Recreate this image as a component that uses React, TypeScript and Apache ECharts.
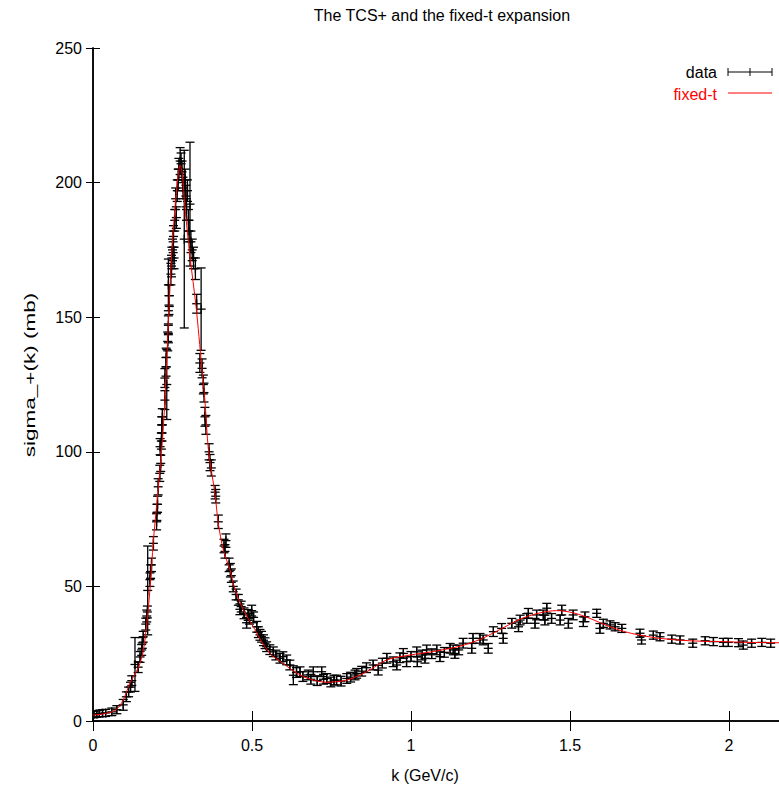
import React, { useEffect, useRef } from "react";
import * as echarts from "echarts";

const TITLE = "The TCS+ and the fixed-t expansion";
const X_LABEL = "k (GeV/c)";
const Y_LABEL = "sigma_+(k) (mb)";
const LEGEND_DATA = "data";
const LEGEND_FIT = "fixed-t";

// measured points: momentum k (GeV/c), cross section (mb), error (mb)
const kValues = [
  0.003, 0.012, 0.02, 0.03, 0.04, 0.059, 0.075, 0.095, 0.105, 0.112, 0.118, 0.122,
  0.132, 0.142, 0.148, 0.153, 0.155, 0.158, 0.166, 0.169, 0.171, 0.172, 0.179, 0.181,
  0.184, 0.19, 0.2, 0.201, 0.203, 0.205, 0.21, 0.213, 0.211, 0.215, 0.217, 0.216,
  0.218, 0.226, 0.232, 0.226, 0.23, 0.23, 0.235, 0.237, 0.237, 0.239, 0.24, 0.237,
  0.245, 0.247, 0.248, 0.25, 0.252, 0.255, 0.253, 0.257, 0.262, 0.26, 0.265, 0.268,
  0.27, 0.274, 0.277, 0.28, 0.283, 0.287, 0.29, 0.292, 0.294, 0.297, 0.3, 0.305,
  0.302, 0.308, 0.312, 0.316, 0.322, 0.326, 0.34, 0.336, 0.343, 0.347, 0.349, 0.352,
  0.355, 0.365, 0.368, 0.372, 0.384, 0.386, 0.394, 0.412, 0.415, 0.418, 0.428, 0.432,
  0.435, 0.441, 0.45, 0.457, 0.462, 0.466, 0.475, 0.483, 0.488, 0.492, 0.499, 0.505,
  0.515, 0.52, 0.525, 0.53, 0.536, 0.541, 0.546, 0.556, 0.567, 0.575, 0.588, 0.597,
  0.609, 0.619, 0.63, 0.64, 0.651, 0.66, 0.677, 0.685, 0.693, 0.705, 0.719, 0.725,
  0.735, 0.748, 0.758, 0.766, 0.78, 0.798, 0.81, 0.824, 0.829, 0.845, 0.86, 0.881,
  0.897, 0.91, 0.924, 0.944, 0.955, 0.965, 0.976, 0.986, 1.0, 1.018, 1.02, 1.035,
  1.049, 1.044, 1.065, 1.081, 1.091, 1.105, 1.123, 1.133, 1.138, 1.15, 1.164, 1.191,
  1.195, 1.217, 1.227, 1.243, 1.259, 1.285, 1.29, 1.317, 1.338, 1.343, 1.364, 1.369,
  1.39, 1.395, 1.416, 1.421, 1.427, 1.442, 1.469, 1.474, 1.495, 1.51, 1.542, 1.547,
  1.584, 1.594, 1.605, 1.626, 1.642, 1.663, 1.72, 1.725, 1.762, 1.783, 1.82, 1.846,
  1.886, 1.925, 1.951, 1.982, 1.998, 2.03, 2.045, 2.071, 2.103, 2.131,
];
const sigmaValues = [
  2.4, 2.6, 2.8, 2.9, 3.0, 3.4, 4.2, 6.0, 9.0, 10.8, 12.6, 15.0,
  21.0, 20.0, 23.8, 26.4, 29.0, 31.3, 36.0, 39.0, 40.5, 48.5, 52.5, 55.5,
  58.0, 66.0, 74.0, 77.5, 80.5, 87.0, 92.0, 95.7, 101.9, 104.0, 107.0, 110.0,
  113.0, 119.2, 125.0, 127.4, 131.6, 135.0, 141.0, 144.0, 147.0, 154.5, 158.0, 162.0,
  166.0, 169.0, 172.0, 175.0, 178.0, 172.0, 180.0, 186.0, 187.0, 194.0, 197.0, 201.0,
  205.0, 208.0, 207.0, 204.0, 198.0, 179.0, 201.0, 195.0, 190.0, 197.0, 186.0, 192.0,
  182.0, 178.0, 175.0, 172.0, 168.0, 155.0, 153.0, 133.0, 131.0, 125.0, 122.0, 113.0,
  110.0, 100.0, 96.0, 94.0, 85.0, 83.5, 74.0, 65.0, 63.0, 67.0, 58.0, 56.0,
  54.0, 50.0, 47.0, 45.0, 41.5, 42.5, 40.0, 36.5, 39.4, 38.0, 41.0, 38.5,
  35.0, 33.0, 32.0, 31.3, 30.0, 28.9, 27.6, 26.5, 25.7, 24.5, 23.3, 23.9,
  22.7, 20.8, 17.0, 18.0, 18.3, 16.5, 17.1, 15.5, 18.3, 15.0, 18.3, 15.5,
  15.8, 14.5, 15.2, 15.2, 14.8, 15.8, 16.3, 17.1, 17.7, 18.5, 19.8, 20.8,
  18.9, 21.5, 23.3, 22.0, 20.8, 23.5, 25.1, 22.0, 24.0, 25.7, 22.0, 24.5,
  26.4, 23.3, 25.0, 26.4, 23.9, 25.5, 27.0, 26.4, 25.1, 26.4, 28.9, 27.0,
  30.7, 30.7, 30.1, 27.0, 33.2, 34.4, 30.7, 36.3, 35.0, 37.5, 38.1, 40.0,
  36.3, 39.4, 39.4, 37.5, 41.9, 38.1, 37.5, 41.2, 36.3, 39.4, 36.9, 38.7,
  40.0, 34.4, 36.3, 35.7, 35.0, 34.4, 32.6, 30.1, 31.9, 31.3, 30.4, 30.1,
  28.9, 29.8, 29.5, 29.2, 29.2, 29.1, 28.2, 28.9, 29.2, 28.9,
];
const sigmaErrors = [
  1.2, 1.2, 1.2, 1.3, 1.3, 1.4, 1.5, 2.0, 1.8, 1.8, 1.8, 1.8,
  10.0, 2.0, 2.0, 2.0, 2.0, 2.0, 2.2, 2.2, 2.2, 16.5, 2.5, 2.5,
  2.5, 2.5, 3.0, 3.0, 3.0, 3.0, 3.0, 3.0, 3.0, 3.0, 3.0, 3.0,
  3.0, 3.5, 13.0, 3.5, 3.5, 3.5, 3.5, 3.5, 3.5, 3.5, 4.0, 9.6,
  4.0, 4.0, 4.0, 4.0, 4.0, 4.0, 4.0, 4.0, 4.0, 4.0, 4.0, 4.0,
  4.0, 5.0, 4.0, 4.0, 4.0, 33.0, 4.0, 4.0, 4.0, 4.0, 4.0, 23.0,
  4.0, 4.0, 4.0, 4.0, 4.0, 3.5, 15.3, 3.5, 3.5, 3.5, 3.5, 3.5,
  3.5, 3.0, 3.0, 3.0, 2.5, 2.5, 2.5, 2.5, 2.5, 2.5, 2.5, 2.5,
  2.5, 2.0, 2.0, 2.0, 2.0, 2.0, 2.0, 2.0, 2.0, 2.0, 2.0, 2.0,
  2.0, 2.0, 2.0, 2.0, 2.0, 2.0, 1.8, 1.8, 1.8, 1.8, 1.8, 1.8,
  1.8, 1.8, 3.5, 1.8, 1.8, 1.8, 1.8, 1.8, 1.8, 1.8, 1.8, 1.8,
  1.8, 1.8, 1.8, 1.8, 1.8, 1.8, 1.8, 1.8, 1.8, 1.8, 1.8, 1.8,
  1.8, 1.8, 1.8, 1.8, 1.8, 1.8, 1.8, 1.8, 1.8, 1.8, 1.8, 1.8,
  1.8, 1.8, 1.8, 1.8, 1.8, 1.8, 1.8, 1.8, 1.8, 1.8, 1.8, 1.8,
  1.8, 1.8, 1.8, 1.8, 1.8, 1.8, 1.8, 1.8, 1.8, 1.8, 1.8, 1.8,
  1.8, 1.8, 1.8, 1.8, 1.8, 1.8, 1.8, 1.8, 1.8, 1.8, 1.8, 1.8,
  1.5, 1.8, 1.5, 1.5, 1.5, 1.5, 1.5, 1.5, 1.5, 1.5, 1.5, 1.5,
  1.5, 1.5, 1.5, 1.5, 1.5, 1.5, 1.5, 1.5, 1.5, 1.5,
];

// fixed-t expansion curve
const curveK = [
  0, 0.04, 0.074, 0.095, 0.116, 0.143, 0.158, 0.169, 0.179, 0.19, 0.2, 0.216,
  0.226, 0.237, 0.247, 0.258, 0.267, 0.274, 0.281, 0.289, 0.305, 0.324, 0.342, 0.352,
  0.363, 0.384, 0.394, 0.41, 0.431, 0.447, 0.473, 0.504, 0.525, 0.557, 0.588, 0.651,
  0.7, 0.735, 0.798, 0.861, 0.924, 0.997, 1.07, 1.154, 1.217, 1.28, 1.343, 1.406,
  1.458, 1.51, 1.563, 1.615, 1.668, 1.72, 1.783, 1.877, 1.97, 2.066, 2.2,
];
const curveSigma = [
  2.2, 2.8, 4.3, 7.8, 14, 20, 26, 36, 48.7, 67, 80, 100.7,
  119, 148, 172.5, 191, 202, 206.5, 203, 191, 172.5, 154, 131.6, 119,
  100.7, 84, 73.4, 63.5, 56, 48.7, 41.2, 35, 30.5, 25, 22.2, 17.1,
  15, 14.4, 15.2, 18.3, 22.7, 24.5, 25.8, 27.8, 30.3, 34, 37.8, 40.2,
  41, 40.2, 38.1, 35.5, 33.3, 31.9, 30.7, 29.8, 29.5, 29.2, 29,
];

const FONT = "'Liberation Sans', Arial, Helvetica, sans-serif";

export default function App() {
  const ref = useRef<HTMLDivElement>(null);
  useEffect(() => {
    if (!ref.current) return;
    const chart = echarts.init(ref.current, null, { renderer: "svg" });
    const points = kValues.map((k, i) => [k, sigmaValues[i], sigmaErrors[i]]);
    const curve = curveK.map((k, i) => [k, curveSigma[i]]);
    const black = "#000000";
    const red = "#ff0000";
    const axisCommon = {
      min: 0,
      axisLine: { show: true, lineStyle: { color: black, width: 1.5 } },
      splitLine: { show: false },
    };
    chart.setOption({
      animation: false,
      backgroundColor: "#ffffff",
      grid: { left: 93, right: 7.4, top: 48, bottom: 71, containLabel: false },
      xAxis: [
        {
          ...axisCommon,
          type: "value",
          position: "bottom",
          max: 2.2,
          interval: 0.5,
          axisTick: { show: true, inside: true, length: 10, lineStyle: { color: black, width: 1 } },
          axisLabel: {
            show: true,
            color: black,
            fontFamily: FONT,
            fontSize: 16,
            margin: 16,
            showMaxLabel: false,
          },
        },
        {
          ...axisCommon,
          type: "value",
          position: "top",
          max: 2.2,
          interval: 0.5,
          axisTick: { show: true, inside: true, length: 10, lineStyle: { color: black, width: 1 } },
          axisLabel: { show: false },
        },
      ],
      yAxis: [
        {
          ...axisCommon,
          type: "value",
          position: "left",
          max: 250,
          interval: 50,
          axisTick: { show: true, inside: true, length: 7, lineStyle: { color: black, width: 1 } },
          axisLabel: { show: true, color: black, fontFamily: FONT, fontSize: 16, margin: 11 },
        },
        {
          ...axisCommon,
          type: "value",
          position: "right",
          max: 250,
          interval: 50,
          axisTick: { show: true, inside: true, length: 7, lineStyle: { color: black, width: 1 } },
          axisLabel: { show: false },
        },
      ],
      series: [
        {
          name: LEGEND_DATA,
          type: "custom",
          xAxisIndex: 0,
          yAxisIndex: 0,
          clip: true,
          z: 2,
          encode: { x: 0, y: 1 },
          data: points,
          renderItem: (params: any, api: any) => {
            const k = api.value(0);
            const s = api.value(1);
            const e = api.value(2);
            const p = api.coord([k, s]);
            const hi = api.coord([k, s + e]);
            const lo = api.coord([k, s - e]);
            const cw = 4.5;
            const st = { stroke: black, lineWidth: 1.3 };
            return {
              type: "group",
              children: [
                { type: "line", shape: { x1: p[0], y1: hi[1], x2: p[0], y2: lo[1] }, style: st },
                { type: "line", shape: { x1: p[0] - cw, y1: hi[1], x2: p[0] + cw, y2: hi[1] }, style: st },
                { type: "line", shape: { x1: p[0] - cw, y1: lo[1], x2: p[0] + cw, y2: lo[1] }, style: st },
                { type: "line", shape: { x1: p[0] - 4.5, y1: p[1], x2: p[0] + 4.5, y2: p[1] }, style: st },
                { type: "line", shape: { x1: p[0], y1: p[1] - 4.5, x2: p[0], y2: p[1] + 4.5 }, style: st },
              ],
            };
          },
        },
        {
          name: LEGEND_FIT,
          type: "line",
          xAxisIndex: 0,
          yAxisIndex: 0,
          data: curve,
          smooth: 0.3,
          showSymbol: false,
          symbol: "none",
          z: 3,
          lineStyle: { color: red, width: 1 },
        },
      ],
      graphic: [
        {
          type: "text",
          x: 442,
          y: 15,
          style: { text: TITLE, fill: black, font: `16px ${FONT}`, textAlign: "center", textVerticalAlign: "middle" },
        },
        {
          type: "text",
          x: 425,
          y: 775,
          style: { text: X_LABEL, fill: black, font: `16px ${FONT}`, textAlign: "center", textVerticalAlign: "middle" },
        },
        {
          type: "text",
          x: 30,
          y: 375,
          rotation: Math.PI / 2,
          scaleX: 1.5,
          scaleY: 1,
          style: { text: Y_LABEL, fill: black, font: `15px ${FONT}`, textAlign: "center", textVerticalAlign: "middle" },
        },
        {
          type: "text",
          x: 717,
          y: 72,
          style: { text: LEGEND_DATA, fill: black, font: `16px ${FONT}`, textAlign: "right", textVerticalAlign: "middle" },
        },
        { type: "line", shape: { x1: 728, y1: 72, x2: 772, y2: 72 }, style: { stroke: black, lineWidth: 1 } },
        { type: "line", shape: { x1: 728, y1: 68, x2: 728, y2: 76 }, style: { stroke: black, lineWidth: 1 } },
        { type: "line", shape: { x1: 772, y1: 68, x2: 772, y2: 76 }, style: { stroke: black, lineWidth: 1 } },
        { type: "line", shape: { x1: 750, y1: 68, x2: 750, y2: 76 }, style: { stroke: black, lineWidth: 1 } },
        {
          type: "text",
          x: 717,
          y: 94,
          style: { text: LEGEND_FIT, fill: red, font: `16px ${FONT}`, textAlign: "right", textVerticalAlign: "middle" },
        },
        { type: "line", shape: { x1: 728, y1: 93, x2: 772, y2: 93 }, style: { stroke: red, lineWidth: 1 } },
      ],
    });
    return () => chart.dispose();
  }, []);
  return (
    <div style={{ position: "fixed", left: 0, top: 0, width: 779, height: 792, overflow: "hidden", background: "#fff" }}>
      <div ref={ref} style={{ width: 800, height: 792 }} />
    </div>
  );
}
